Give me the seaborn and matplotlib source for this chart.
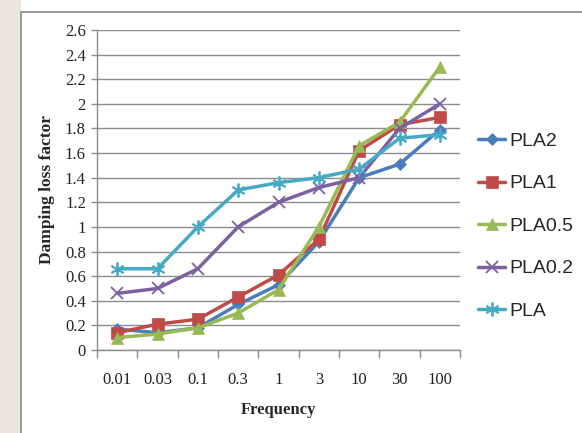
import matplotlib
matplotlib.use("Agg")
import matplotlib.pyplot as plt
import seaborn as sns
import numpy as np
import pandas as pd
from matplotlib.patches import Rectangle
from matplotlib.lines import Line2D

categories = ["0.01", "0.03", "0.1", "0.3", "1", "3", "10", "30", "100"]
pla2 = [0.17, 0.14, 0.18, 0.37, 0.53, 0.88, 1.40, 1.51, 1.79]
pla1 = [0.14, 0.21, 0.25, 0.43, 0.61, 0.90, 1.62, 1.83, 1.89]
pla05 = [0.10, 0.13, 0.18, 0.30, 0.49, 1.00, 1.66, 1.85, 2.30]
pla02 = [0.46, 0.50, 0.66, 1.00, 1.20, 1.32, 1.40, 1.80, 2.00]
pla = [0.66, 0.66, 1.00, 1.30, 1.36, 1.40, 1.47, 1.72, 1.75]
series_names = ["PLA2", "PLA1", "PLA0.5", "PLA0.2", "PLA"]
series_values = [pla2, pla1, pla05, pla02, pla]
yticks = [0, 0.2, 0.4, 0.6, 0.8, 1, 1.2, 1.4, 1.6, 1.8, 2, 2.2, 2.4, 2.6]

colors = ["#4A7EBB", "#BE4B48", "#98B954", "#7D60A0", "#46AAC5"]
markers = ["D", "s", "^", "x", (6, 2, 0)]
msizes = [6, 9, 9, 8, 10]

sns.set_theme(style="white")
plt.rcParams['font.family'] = ['Liberation Serif', 'DejaVu Serif']

fig = plt.figure(figsize=(5.82, 4.33), dpi=100)
fig.patch.set_facecolor("white")
# left beige strip and frame
fig.patches.append(Rectangle((0, 0), 21 / 582, 1, transform=fig.transFigure,
                             facecolor="#ebe5de", edgecolor="none", zorder=0))
fig.add_artist(Line2D([21 / 582, 21 / 582], [0, 1 - 12 / 433], transform=fig.transFigure,
                      color="#8c8c8c", lw=1.2))
fig.add_artist(Line2D([21 / 582, 1], [1 - 12 / 433, 1 - 12 / 433], transform=fig.transFigure,
                      color="#8c8c8c", lw=1.2))

ax = fig.add_axes([97 / 582, 1 - 350 / 433, (460 - 97) / 582, (350 - 30) / 433])
ax.set_facecolor("white")

xpos = np.arange(len(categories))
for name, vals, c, m, ms in zip(series_names, series_values, colors, markers, msizes):
    df = pd.DataFrame({"x": xpos, "y": vals})
    sns.lineplot(data=df, x="x", y="y", ax=ax, color=c, marker=m, markersize=ms,
                 linewidth=2.5, markeredgecolor=c,
                 markeredgewidth=1.3 if m in ("x", (6, 2, 0)) else 0.5,
                 label=name, legend=False)

ax.set_xlim(-0.5, len(categories) - 0.5)
ax.set_ylim(0, 2.6)
ax.set_yticks(yticks)
ax.set_yticklabels([f"{v:g}" for v in yticks], fontsize=12, color="#222222")
ax.set_xticks(np.arange(-0.5, len(categories), 1.0))
ax.set_xticklabels([])
ax.set_xticks(xpos, minor=True)
ax.set_xticklabels(categories, minor=True, fontsize=12, color="#222222")
ax.tick_params(axis="x", which="major", length=6, color="#8c8c8c", width=1, direction="out", bottom=True)
ax.tick_params(axis="x", which="minor", length=0, pad=16)
ax.tick_params(axis="y", length=4, color="#8c8c8c", width=1, direction="out", left=True, pad=4)
ax.grid(axis="y", color="#8c8c8c", linewidth=1)
ax.set_axisbelow(True)
for s in ["top", "right"]:
    ax.spines[s].set_visible(False)
for s in ["left", "bottom"]:
    ax.spines[s].set_color("#8c8c8c")
    ax.spines[s].set_linewidth(1)

ax.set_xlabel("Frequency", fontsize=12, fontweight="bold", labelpad=10)
ax.set_ylabel("Damping loss factor", fontsize=12.5, fontweight="bold", labelpad=7)

handles, labels = ax.get_legend_handles_labels()
leg = fig.legend(handles, labels, loc="center left", bbox_to_anchor=(478 / 582, 1 - 226 / 433),
                 frameon=False, prop={"family": ["Liberation Sans", "DejaVu Sans"], "size": 14},
                 handlelength=1.4, handletextpad=0.2, labelspacing=1.28, borderpad=0,
                 borderaxespad=0)

fig.savefig("out.png", dpi=100, facecolor=fig.get_facecolor())
